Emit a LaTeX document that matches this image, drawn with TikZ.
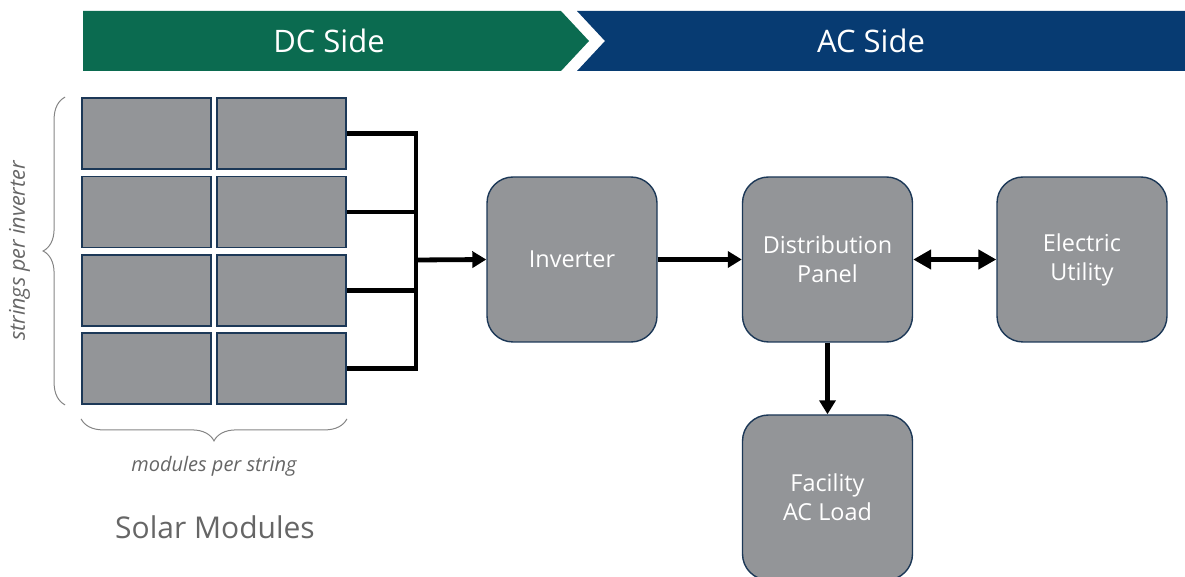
\documentclass[tikz,border=0pt]{standalone}
\usepackage{fontspec}
\setmainfont{Open Sans}
\usetikzlibrary{arrows.meta,decorations.pathreplacing,positioning}

\definecolor{dcgreen}{HTML}{0B6B50}
\definecolor{acblue}{HTML}{073B72}
\definecolor{boxgray}{HTML}{939598}
\definecolor{boxline}{HTML}{1C3857}
\definecolor{labelgray}{HTML}{666666}

\tikzset{
  module/.style={draw=boxline, line width=0.9pt, fill=boxgray, minimum width=64.5pt, minimum height=35.5pt, inner sep=0pt},
  unit/.style={draw=boxline, line width=0.7pt, fill=boxgray, rounded corners=13pt, minimum width=85pt, minimum height=82.5pt, text=white, align=center, font=\fontsize{11.7}{14.5}\selectfont},
  wire/.style={line width=2.4pt},
  flow/.style={wire, -{Triangle[length=7pt,width=8pt]}},
  banner/.style={text=white, font=\fontsize{15.5}{18}\selectfont},
  bracegray/.style={draw=labelgray!80, line width=0.5pt, decorate, decoration={brace, amplitude=11pt}},
  note/.style={text=labelgray, font=\fontsize{10}{12}\selectfont\itshape}
}

\begin{document}
\begin{tikzpicture}[x=0.5pt, y=-0.5pt]
\clip (0,0) rectangle (1185,577);

\fill[dcgreen] (83,11) -- (561,11) -- (589,41) -- (561,71) -- (83,71) -- cycle;
\fill[acblue] (577,11) -- (1185,11) -- (1185,71) -- (577,71) -- (605,41) -- cycle;
\node[banner] (dc) at (329,41) {DC Side};
\node[banner] (ac) at (871,41) {AC Side};

\node[module] (mod11) at (146.5,133.5) {};
\node[module] (mod12) at (281.5,133.5) {};
\node[module] (mod21) at (146.5,212) {};
\node[module] (mod22) at (281.5,212) {};
\node[module] (mod31) at (146.5,290.5) {};
\node[module] (mod32) at (281.5,290.5) {};
\node[module] (mod41) at (146.5,368.5) {};
\node[module] (mod42) at (281.5,368.5) {};

\draw[bracegray] ([xshift=-8pt]mod41.south west) -- ([xshift=-8pt]mod11.north west)
  coordinate[midway] (bracemid);
\node[note, font=\fontsize{10.8}{12}\selectfont\itshape, rotate=90, left=14pt of bracemid, anchor=south] (strings) {strings per inverter};
\draw[bracegray] ([yshift=-7pt]mod42.south east) -- ([yshift=-7pt]mod41.south west)
  coordinate[midway] (bracetip);
\node[note, below=15pt of bracetip] (perstring) {modules per string};
\node[text=labelgray, font=\fontsize{15}{18}\selectfont] (solar) at (215,527) {Solar Modules};

\coordinate (bus) at (416,260);
\node[unit] (inv) at (572,259.5) {Inverter};
\node[unit] (panel) at (827.5,259.5) {Distribution\\Panel};
\node[unit] (utility) at (1082,259.5) {Electric\\Utility};
\node[unit] (load) at (827.5,497.5) {Facility\\AC Load};

\draw[wire] (mod12.east) -- (mod12.east -| bus);
\draw[wire] (mod22.east) -- (mod22.east -| bus);
\draw[wire] (mod32.east) -- (mod32.east -| bus);
\draw[wire] (mod42.east) -- (mod42.east -| bus);
\draw[wire, line cap=rect] (mod12.east -| bus) -- (mod42.east -| bus);
\draw[flow] (bus) -- (inv.west);
\draw[flow] (inv.east) -- (panel.west);
\draw[wire, {Triangle[length=9pt,width=9.5pt]}-{Triangle[length=9pt,width=9.5pt]}] (panel.east) -- (utility.west);
\draw[flow] (panel.south) -- (load.north);
\end{tikzpicture}
\end{document}
